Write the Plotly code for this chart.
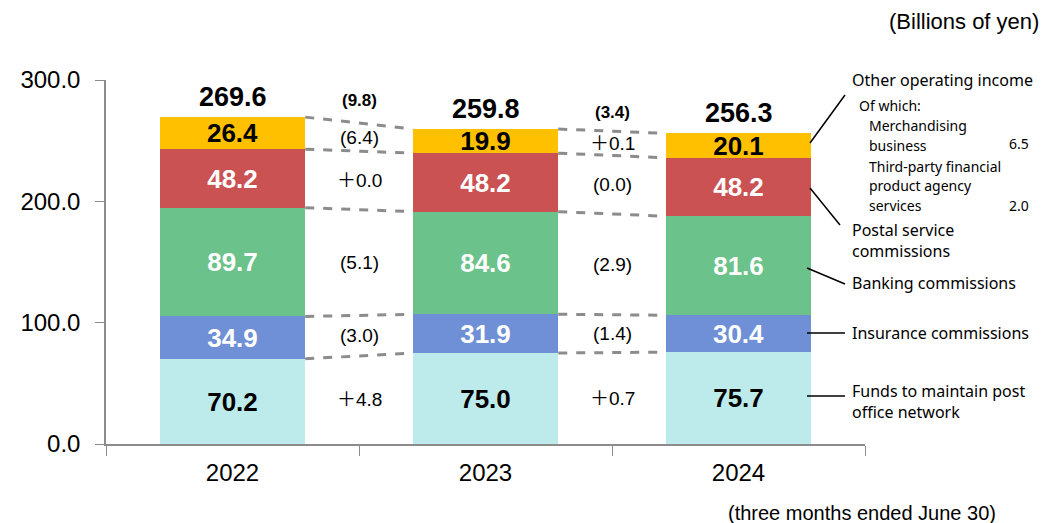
import plotly.graph_objects as go

# ---------------- data ----------------
years = ["2022", "2023", "2024"]
funds = [70.2, 75.0, 75.7]          # Funds to maintain post office network
insurance = [34.9, 31.9, 30.4]      # Insurance commissions
banking = [89.7, 84.6, 81.6]        # Banking commissions
postal = [48.2, 48.2, 48.2]         # Postal service commissions
other = [26.4, 19.9, 20.1]          # Other operating income
totals = [269.6, 259.8, 256.3]
chg_22_23 = ["＋4.8", "(3.0)", "(5.1)", "＋0.0", "(6.4)"]
chg_23_24 = ["＋0.7", "(1.4)", "(2.9)", "(0.0)", "＋0.1"]
total_chg = ["(9.8)", "(3.4)"]
yticks = [0, 100, 200, 300]
other_items = [("Merchandising", "business", "6.5"),
               ("Third-party financial", "product agency", "services", "2.0")]

series = [funds, insurance, banking, postal, other]
colors = ["#BDEBEB", "#6F8FD6", "#6BC28A", "#CB5252", "#FFC000"]
text_colors = ["black", "white", "white", "white", "black"]

FONT = "Liberation Sans, Arial, Noto Sans CJK JP, sans-serif"
SIDE = "Noto Sans, Open Sans, sans-serif"
W, H = 1045, 523
L, R, T, B = 106, 180, 80, 79
BARW = 0.575

fig = go.Figure()
for vals, c, tc in zip(series, colors, text_colors):
    fig.add_trace(go.Bar(
        x=years, y=vals, marker=dict(color=c, line=dict(width=0)), width=BARW,
        texttemplate="<b>%{y:.1f}</b>", textposition="inside",
        insidetextanchor="middle", textangle=0,
        textfont=dict(family=FONT, size=26, color=tc),
        showlegend=False, hoverinfo="skip"))

# cumulative boundaries
cum = []
run = [0.0] * len(years)
for vals in series:
    run = [a + b for a, b in zip(run, vals)]
    cum.append(run)

shapes = []
annotations = []
# dashed connectors
for i in range(len(years) - 1):
    for k in range(len(series)):
        shapes.append(dict(type="line", xref="x", yref="y",
                           x0=i + BARW / 2, x1=i + 1 - BARW / 2,
                           y0=cum[k][i], y1=cum[k][i + 1],
                           line=dict(color="#8C8C8C", width=3, dash="dash")))

# change labels
for i, chg in enumerate([chg_22_23, chg_23_24]):
    for k, txt in enumerate(chg):
        lo = 0 if k == 0 else (cum[k - 1][i] + cum[k - 1][i + 1]) / 2
        hi = (cum[k][i] + cum[k][i + 1]) / 2
        annotations.append(dict(x=i + 0.5, y=(lo + hi) / 2, xref="x", yref="y",
                                text=txt, showarrow=False,
                                font=dict(family=FONT, size=19, color="black")))
    top = max(cum[-1][i], cum[-1][i + 1])
    annotations.append(dict(x=i + 0.5, y=top + 14, xref="x", yref="y",
                            text="<b>" + total_chg[i] + "</b>", showarrow=False,
                            font=dict(family=FONT, size=17, color="black")))

# totals on top of bars
for i, t in enumerate(totals):
    annotations.append(dict(x=i, y=cum[-1][i], xref="x", yref="y", yanchor="bottom",
                            yshift=3, text="<b>%.1f</b>" % t, showarrow=False,
                            font=dict(family=FONT, size=27, color="black")))


def px(xp):
    return (xp - L) / (W - L - R)


def py(yp):
    return (H - B - yp) / (H - T - B)


def side(text, xp, yp, size=16, anchor="left"):
    annotations.append(dict(x=px(xp), y=py(yp), xref="paper", yref="paper",
                            xanchor=anchor, yanchor="middle", text=text,
                            align=anchor, showarrow=False,
                            font=dict(family=SIDE, size=size, color="black")))


side("Other operating income", 850, 80)
side("Of which:", 857, 105, 14)
side(other_items[0][0], 867, 125, 14)
side(other_items[0][1], 867, 145, 14)
side(other_items[0][2], 1031, 143, 14, "right")
side(other_items[1][0], 867, 166, 14)
side(other_items[1][1], 867, 185, 14)
side(other_items[1][2], 867, 205, 14)
side(other_items[1][3], 1031, 205, 14, "right")
side("Postal service<br>commissions", 850, 240)
side("Banking commissions", 850, 283)
side("Insurance commissions", 850, 333)
side("Funds to maintain post<br>office network", 850, 401)

annotations.append(dict(x=px(1041), y=py(22), xref="paper", yref="paper",
                        xanchor="right", yanchor="middle", text="(Billions of yen)",
                        showarrow=False, font=dict(family=FONT, size=22, color="black")))
annotations.append(dict(x=px(998), y=py(513), xref="paper", yref="paper",
                        xanchor="right", yanchor="middle",
                        text="(three months ended June 30)",
                        showarrow=False, font=dict(family=FONT, size=20, color="black")))

# leader lines
for (x0, y0, x1, y1) in [(810, 143, 845, 95), (810, 188, 840, 225),
                         (807, 268, 845, 284), (807, 333, 845, 333),
                         (807, 396, 845, 396)]:
    shapes.append(dict(type="line", xref="paper", yref="paper",
                       x0=px(x0), y0=py(y0), x1=px(x1), y1=py(y1),
                       line=dict(color="black", width=1.5)))

fig.update_layout(
    width=W, height=H, barmode="stack", bargap=0,
    margin=dict(l=L, r=R, t=T, b=B),
    paper_bgcolor="white", plot_bgcolor="white",
    uniformtext=dict(minsize=26, mode="show"),
    shapes=shapes, annotations=annotations, showlegend=False,
    xaxis=dict(type="category", range=[-0.5, 2.5], tickson="boundaries",
               ticks="outside", ticklen=10, tickcolor="#8C8C8C",
               showline=True, linecolor="#8C8C8C", linewidth=1.5,
               ticklabelstandoff=6,
               showgrid=False, tickfont=dict(family=FONT, size=24, color="black")),
    yaxis=dict(range=[0, 300], tickvals=yticks, tickformat=".1f",
               ticks="outside", ticklen=9, tickcolor="#8C8C8C",
               showline=True, linecolor="#8C8C8C", linewidth=1.5,
               ticklabelstandoff=10,
               showgrid=False, zeroline=False,
               tickfont=dict(family=FONT, size=24, color="black")),
)

fig.write_html("out.html", config={"displayModeBar": False},
               post_script="document.body.style.margin='0';document.body.style.overflow='hidden';")
